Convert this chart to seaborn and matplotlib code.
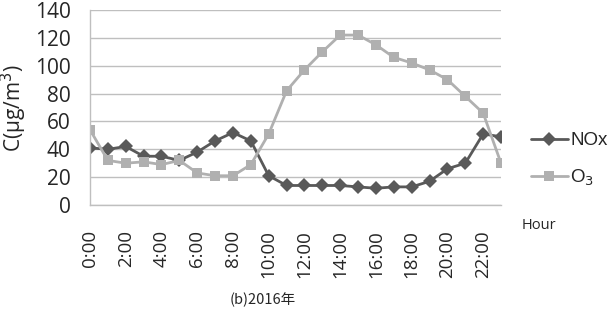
import matplotlib
matplotlib.use('Agg')
from matplotlib import pyplot as plt
from matplotlib.font_manager import FontProperties
import pandas as pd
import seaborn as sns

hours = list(range(24))
nox = [41, 40, 42, 35, 35, 32, 38, 46, 52, 46, 21, 14, 14, 14, 14, 13, 12, 13, 13, 17, 26, 30, 51, 49]
o3 = [54, 32, 30, 31, 29, 32, 23, 21, 21, 29, 51, 82, 97, 110, 122, 122, 115, 106, 102, 97, 90, 78, 66, 30]
tick_hours = list(range(0, 24, 2))
tick_labels = ['%d:00' % h for h in tick_hours]

df = pd.DataFrame({'Hour': hours * 2,
                   'C': nox + o3,
                   'Series': ['NOx'] * 24 + ['O$_3$'] * 24})

sns.set_style('white')
plt.rcParams['font.family'] = ['Open Sans', 'DejaVu Sans']

f = plt.figure(figsize=(6.14, 3.16), dpi=100)
ax = f.add_axes([0.1466, 0.3513, 0.6694, 0.6170])

sns.lineplot(data=df, x='Hour', y='C', hue='Series', style='Series',
             palette={'NOx': '#595959', 'O$_3$': '#b0b0b0'},
             markers={'NOx': 'D', 'O$_3$': 's'}, dashes=False,
             markersize=7, markeredgewidth=0, linewidth=2, ax=ax)

ax.set_xlim(0, 23)
ax.set_ylim(0, 140)
ax.set_yticks(range(0, 141, 20))
ax.set_xticks(tick_hours)
ax.set_xticklabels(tick_labels, rotation=90, fontsize=13.5)
ax.tick_params(axis='y', labelsize=15, length=0, pad=14)
ax.tick_params(axis='x', length=0, pad=18)
ax.yaxis.grid(True, color='#bfbfbf', linewidth=1)
for s in ['top', 'right']:
    ax.spines[s].set_visible(False)
for s in ['left', 'bottom']:
    ax.spines[s].set_color('#bfbfbf')
    ax.spines[s].set_linewidth(1)
ax.set_xlabel('')
ax.set_ylabel('C(μg/m$^3$)', fontsize=15, labelpad=4)

h, l = ax.get_legend_handles_labels()
ax.legend(h, l, loc='center left', bbox_to_anchor=(1.073, 0.23), frameon=False,
          borderpad=0, borderaxespad=0,
          handlelength=1.95, labelspacing=1.0, handletextpad=0.15,
          prop=FontProperties(family='Liberation Sans', size=13.5))

f.text(0.85, 0.287, 'Hour', fontsize=10.5, ha='left', va='center')
f.text(0.428, 0.05, '(b)2016年', fontsize=10.5, ha='center', va='center',
       family=['Noto Sans CJK SC', 'DejaVu Sans'])

plt.savefig('out.png', dpi=100)
